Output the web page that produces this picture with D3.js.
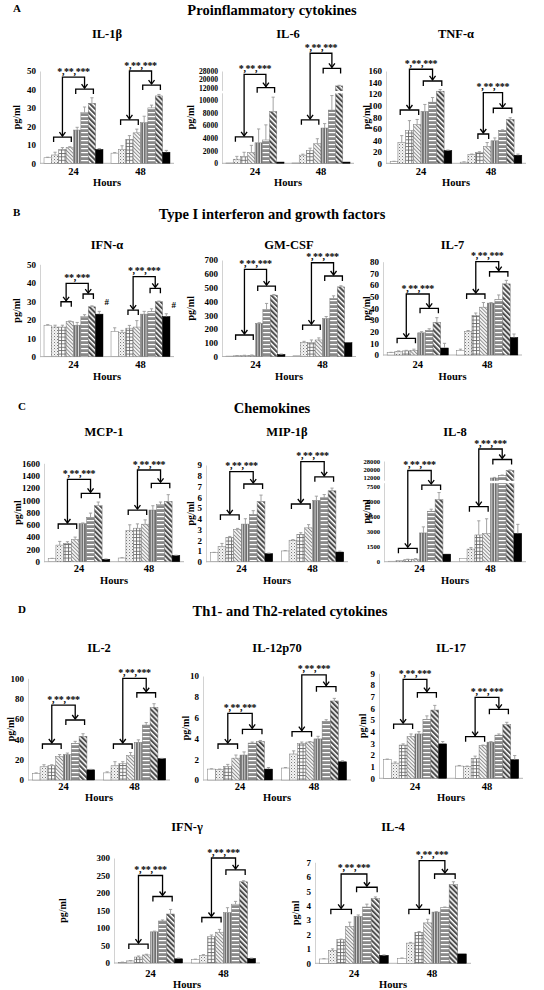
<!DOCTYPE html>
<html><head><meta charset="utf-8">
<script src="https://cdn.jsdelivr.net/npm/d3@7/dist/d3.min.js"></script>
<style>
body{margin:0;background:#fff;}
svg text{font-family:"Liberation Serif","Times New Roman",serif;font-weight:bold;fill:#000;}
</style></head><body>
<svg id="chart" width="544" height="990"></svg>
<script>
// ---------- categories ----------
const timeGroups = ["24", "48"];
const barKinds = ["white", "dots", "grid", "lightdiag", "vert", "horiz", "darkdiag", "black"];
const sigFull = "*,**,***";
const sigShort = "**,***";

// ---------- A: proinflammatory ----------
const il1b_24 = [3, 4.5, 7.5, 8.5, 18, 27.5, 32.5, 7.5];
const il1b_48 = [5.5, 7.5, 13, 16.5, 22, 30, 36.5, 6];
const il1b_err24 = [0.3, 1.5, 1, 0.5, 1.5, 3, 3, 0.5];
const il1b_err48 = [0.3, 2, 2, 2, 3.5, 1.5, 0.8, 1];
const il1b_ticks = [0, 10, 20, 30, 40, 50];
const il1b_br24 = [14.2, 40.2, 46.7];
const il1b_br48 = [23.5, 42.4, 50];

const il6_24 = [50, 650, 1050, 1700, 3250, 3700, 8200, 200];
const il6_48 = [50, 1300, 2000, 3100, 5600, 8450, 13700, 200];
const il6_err24 = [0, 450, 700, 1150, 2200, 2400, 2300, 0];
const il6_err48 = [0, 150, 400, 800, 700, 2300, 600, 0];
const il6_ticks = [0, 2000, 4000, 6000, 8000, 10000, 12000, 20000, 28000];
const il6_br24 = [4200, 12000, 24800];
const il6_br48 = [6900, 30500, 45000];

const tnf_24 = [3, 36, 57, 67, 90, 106, 125, 22];
const tnf_48 = [2, 15, 18.5, 29, 39, 57, 76, 14];
const tnf_err24 = [0.5, 12, 17, 9, 12, 8, 3, 1];
const tnf_err48 = [0.5, 1, 1.5, 7, 5, 1, 3, 2];
const tnf_ticks = [0, 20, 40, 60, 80, 100, 120, 140, 160];
const tnf_br24 = [92.4, 142.7, 163];
const tnf_br48 = [50.8, 95.4, 122.4];

// ---------- B: type I IFN and growth factors ----------
const ifna_24 = [17, 16, 16, 19, 17, 21.7, 27, 23];
const ifna_48 = [13.6, 13.2, 15.4, 16, 23, 24.4, 29.8, 21.7];
const ifna_err24 = [0.3, 1, 1, 0.3, 1.5, 1, 0.5, 1.5];
const ifna_err48 = [2, 1, 1.5, 3.5, 1.5, 1.5, 0.3, 1.5];
const ifna_ticks = [0, 10, 20, 30, 40, 50];
const ifna_br24 = [29.7, 33.9, 39.7];
const ifna_br48 = [25.2, 37, 43.3];

const gmcsf_24 = [3, 5, 6, 8, 240, 340, 445, 15];
const gmcsf_48 = [5, 100, 100, 120, 275, 420, 505, 100];
const gmcsf_err24 = [0, 2, 3, 3, 5, 45, 5, 3];
const gmcsf_err48 = [0, 10, 20, 15, 15, 20, 8, 0];
const gmcsf_ticks = [0, 100, 200, 300, 400, 500, 600, 700];
const gmcsf_br24 = [156, 511, 632];
const gmcsf_br48 = [228, 584, 680];

const il7_24 = [2, 3, 3.5, 4, 19, 21, 28, 6];
const il7_48 = [4, 20, 34, 41, 44.5, 47.5, 61, 15];
const il7_err24 = [0.3, 0.5, 0.5, 1, 1, 1.5, 4, 4];
const il7_err48 = [1, 1, 2, 4, 0.5, 4, 3, 3];
const il7_ticks = [0, 10, 20, 30, 40, 50, 60, 70, 80];
const il7_br24 = [14.3, 40, 52.3];
const il7_br48 = [52.3, 71.4, 80];

// ---------- C: chemokines ----------
const mcp1_24 = [50, 270, 300, 360, 620, 720, 910, 40];
const mcp1_48 = [60, 510, 545, 610, 840, 930, 980, 100];
const mcp1_err24 = [5, 60, 25, 40, 10, 70, 60, 5];
const mcp1_err48 = [5, 90, 70, 70, 70, 40, 110, 5];
const mcp1_ticks = [0, 200, 400, 600, 800, 1000, 1200, 1400, 1600];
const mcp1_br24 = [613, 1112, 1340];
const mcp1_br48 = [840, 1275, 1491];

const mip_24 = [0.85, 1.4, 2.25, 3.0, 3.5, 4.4, 5.6, 0.75];
const mip_48 = [1.0, 2.0, 2.55, 3.15, 5.7, 5.95, 6.6, 0.9];
const mip_err24 = [0.02, 0.3, 0.1, 0.1, 0.5, 0.35, 0.6, 0.05];
const mip_err48 = [0.03, 0.05, 0.15, 0.3, 0.4, 0.3, 0.25, 0.08];
const mip_ticks = [0, 1, 2, 3, 4, 5, 6, 7, 8, 9];
const mip_br24 = [4.35, 7.23, 8.38];
const mip_br48 = [5.37, 7.9, 9.31];

const il8_24 = [50, 100, 200, 250, 2850, 5000, 6150, 750];
const il8_48 = [300, 1250, 2650, 2800, 11500, 13500, 18500, 2800];
const il8_err24 = [0, 0, 50, 50, 600, 200, 700, 0];
const il8_err48 = [0, 150, 1400, 1450, 300, 500, 600, 900];
const il8_ticks = [0, 1500, 3000, 4500, 6000, 7500, 12000, 20000, 28000];
const il8_br24 = [1330, 7980, 18500];
const il8_br48 = [5450, 29500, 40000];

// ---------- D: Th1 / Th2 ----------
const il2_24 = [6.5, 13, 14, 23, 25, 36, 43, 10];
const il2_48 = [7, 14, 16, 24, 37, 54, 71.5, 21];
const il2_err24 = [0.5, 2, 1, 2, 1.5, 2, 2.5, 0.5];
const il2_err48 = [1, 4, 2, 3, 2.5, 2.5, 3.5, 0.3];
const il2_ticks = [0, 20, 40, 60, 80, 100];
const il2_br24 = [35.4, 59, 73.7];
const il2_br48 = [35.4, 85.8, 100];

const il12_24 = [1.05, 1.0, 1.3, 2.1, 2.4, 3.55, 3.7, 1.05];
const il12_48 = [1.15, 2.5, 3.5, 3.65, 3.95, 5.65, 7.6, 1.75];
const il12_err24 = [0.03, 0.05, 0.2, 0.3, 0.3, 0.1, 0.1, 0.15];
const il12_err48 = [0.05, 0.3, 0.15, 0.05, 0.25, 0.15, 0.25, 0.1];
const il12_ticks = [0, 2, 4, 6, 8, 10];
const il12_br24 = [3.46, 4.87, 6.4];
const il12_br48 = [4.65, 8.97, 10.1];

const il17_24 = [1.6, 1.3, 2.85, 3.6, 3.8, 5.05, 5.85, 2.95];
const il17_48 = [1.05, 1.0, 1.7, 2.8, 3.1, 3.7, 4.6, 1.6];
const il17_err24 = [0.05, 0.1, 0.1, 0.2, 0.2, 0.3, 0.4, 0.2];
const il17_err48 = [0.05, 0.05, 0.2, 0.05, 0.05, 0.1, 0.2, 0.35];
const il17_ticks = [0, 1, 2, 3, 4, 5, 6, 7, 8, 9];
const il17_br24 = [4.65, 7.34, 8.48];
const il17_br48 = [3.57, 5.91, 6.94];

const ifng_24 = [2, 6, 17, 23, 89, 120, 140, 12];
const ifng_48 = [10, 22, 75, 88, 144, 168, 232, 13];
const ifng_err24 = [0.5, 1, 3, 2, 2, 3, 13, 2];
const ifng_err48 = [1, 2, 5, 8, 14, 8, 3, 1];
const ifng_ticks = [0, 50, 100, 150, 200, 250, 300];
const ifng_br24 = [54, 190, 250];
const ifng_br48 = [130, 266, 300];

const il4_24 = [0.3, 0.9, 1.65, 2.55, 3.25, 3.9, 4.5, 0.55];
const il4_48 = [0.35, 1.4, 2.15, 2.8, 3.55, 3.85, 5.45, 0.65];
const il4_err24 = [0.02, 0.1, 0.03, 0.3, 0.1, 0.2, 0.1, 0.03];
const il4_err48 = [0.02, 0.05, 0.05, 0.25, 0.03, 0.05, 0.2, 0.03];
const il4_ticks = [0, 1, 2, 3, 4, 5, 6, 7];
const il4_br24 = [3.74, 5.27, 6.19];
const il4_br48 = [3.74, 6.19, 7.11];

// ---------- layout ----------
const rows = [
  {letter: "A", lx: 13, heading: "Proinflammatory cytokines", hx: 272, hy: 15, titleY: 38, catY: 175, hoursY: 186},
  {letter: "B", lx: 13, heading: "Type I interferon and growth factors", hx: 272, hy: 219, titleY: 249, catY: 368, hoursY: 380},
  {letter: "C", lx: 18, heading: "Chemokines", hx: 272, hy: 413, titleY: 436, catY: 572, hoursY: 584},
  {letter: "D", lx: 18, heading: "Th1- and Th2-related cytokines", hx: 290, hy: 616, titleY: 652, catY: 790, hoursY: 801},
  {titleY: 831, catY: 977, hoursY: 988}
];

const panels = [
  {row: 0, title: "IL-1β", v: [il1b_24, il1b_48], e: [il1b_err24, il1b_err48], ticks: il1b_ticks, br: [il1b_br24, il1b_br48],
   x0: 40, x1: 174, domain: [0, 50], range: [163.3, 71], ylabX: 16},
  {row: 0, title: "IL-6", v: [il6_24, il6_48], e: [il6_err24, il6_err48], ticks: il6_ticks, br: [il6_br24, il6_br48],
   x0: 222, x1: 354, domain: [0, 12000, 28000], range: [163.3, 87.7, 71], ylabX: 190, breakAt: 11300, tickFs: 7.6},
  {row: 0, title: "TNF-α", v: [tnf_24, tnf_48], e: [tnf_err24, tnf_err48], ticks: tnf_ticks, br: [tnf_br24, tnf_br48],
   x0: 386, x1: 526, domain: [0, 160], range: [163.3, 71], ylabX: 366, spans48: [[2, 3], [4, 6]]},

  {row: 1, title: "IFN-α", v: [ifna_24, ifna_48], e: [ifna_err24, ifna_err48], ticks: ifna_ticks, br: [ifna_br24, ifna_br48],
   x0: 40, x1: 174, domain: [0, 50], range: [356.6, 264.3], ylabX: 16, sig24: sigShort,
   spans24: [[2, 3], [5, 6]], spans48: [[2, 3], [5, 6]], hash: true},
  {row: 1, title: "GM-CSF", v: [gmcsf_24, gmcsf_48], e: [gmcsf_err24, gmcsf_err48], ticks: gmcsf_ticks, br: [gmcsf_br24, gmcsf_br48],
   x0: 222, x1: 356, domain: [0, 700], range: [356.5, 260], ylabX: 190},
  {row: 1, title: "IL-7", v: [il7_24, il7_48], e: [il7_err24, il7_err48], ticks: il7_ticks, br: [il7_br24, il7_br48],
   x0: 383, x1: 522, domain: [0, 80], range: [355, 261.7], ylabX: 366},

  {row: 2, title: "MCP-1", v: [mcp1_24, mcp1_48], e: [mcp1_err24, mcp1_err48], ticks: mcp1_ticks, br: [mcp1_br24, mcp1_br48],
   x0: 44, x1: 184, domain: [0, 1600], range: [561.7, 463.3], ylabX: 17, tdx: -10},
  {row: 2, title: "MIP-1β", v: [mip_24, mip_48], e: [mip_err24, mip_err48], ticks: mip_ticks, br: [mip_br24, mip_br48],
   x0: 206, x1: 348, domain: [0, 9], range: [561.7, 465], ylabX: 190, tdx: 10},
  {row: 2, title: "IL-8", v: [il8_24, il8_48], e: [il8_err24, il8_err48], ticks: il8_ticks, br: [il8_br24, il8_br48],
   x0: 384, x1: 526, domain: [0, 7500, 12000, 28000], range: [561.7, 486, 477, 461], ylabX: 366, breakAt: 9500, tickFs: 6.6},

  {row: 3, title: "IL-2", v: [il2_24, il2_48], e: [il2_err24, il2_err48], ticks: il2_ticks, br: [il2_br24, il2_br48],
   x0: 28, x1: 170, domain: [0, 100], range: [780, 678.3], ylabX: 10},
  {row: 3, title: "IL-12p70", v: [il12_24, il12_48], e: [il12_err24, il12_err48], ticks: il12_ticks, br: [il12_br24, il12_br48],
   x0: 203, x1: 351, domain: [0, 10], range: [780, 676], ylabX: 185},
  {row: 3, title: "IL-17", v: [il17_24, il17_48], e: [il17_err24, il17_err48], ticks: il17_ticks, br: [il17_br24, il17_br48],
   x0: 379, x1: 523, domain: [0, 9], range: [778.3, 673.3], ylabX: 362},

  {row: 4, title: "IFN-γ", v: [ifng_24, ifng_48], e: [ifng_err24, ifng_err48], ticks: ifng_ticks, br: [ifng_br24, ifng_br48],
   x0: 114, x1: 260, domain: [0, 300], range: [963, 858], ylabX: 62},
  {row: 4, title: "IL-4", v: [il4_24, il4_48], e: [il4_err24, il4_err48], ticks: il4_ticks, br: [il4_br24, il4_br48],
   x0: 315, x1: 471, domain: [0, 7], range: [963.3, 862.3], ylabX: 295}
];

// ---------- drawing ----------
const svg = d3.select("#chart");
const defs = svg.append("defs");

function pattern(id, size, bg, rot, draw) {
  const p = defs.append("pattern").attr("id", id).attr("patternUnits", "userSpaceOnUse")
    .attr("width", size).attr("height", size);
  if (rot) p.attr("patternTransform", `rotate(${rot})`);
  p.append("rect").attr("width", size).attr("height", size).attr("fill", bg);
  draw(p);
}
pattern("dots", 3, "#f2f2f2", 0, p => {
  p.append("rect").attr("x", 0).attr("y", 0).attr("width", 1).attr("height", 1).attr("fill", "#7a7a7a");
  p.append("rect").attr("x", 1.5).attr("y", 1.5).attr("width", 0.8).attr("height", 0.8).attr("fill", "#a0a0a0");
});
pattern("grid", 3.4, "#ffffff", 0, p => {
  p.append("rect").attr("x", 0).attr("y", 0).attr("width", 0.9).attr("height", 3.4).attr("fill", "#6a6a6a");
  p.append("rect").attr("x", 0).attr("y", 0).attr("width", 3.4).attr("height", 0.9).attr("fill", "#6a6a6a");
});
pattern("lightdiag", 2.6, "#f4f4f4", -45, p => {
  p.append("rect").attr("x", 0).attr("y", 0).attr("width", 0.9).attr("height", 2.6).attr("fill", "#8a8a8a");
});
pattern("vert", 2.6, "#6e6e6e", 0, p => {
  p.append("rect").attr("x", 0).attr("y", 0).attr("width", 0.9).attr("height", 2.6).attr("fill", "#e0e0e0");
});
pattern("horiz", 4, "#8a8a8a", 0, p => {
  p.append("rect").attr("x", 0).attr("y", 0).attr("width", 4).attr("height", 1.2).attr("fill", "#ffffff");
});
pattern("darkdiag", 3.6, "#ffffff", -45, p => {
  p.append("rect").attr("x", 0).attr("y", 0).attr("width", 2.1).attr("height", 3.6).attr("fill", "#4e4e4e");
});
const fills = {white: "#ffffff", dots: "url(#dots)", grid: "url(#grid)", lightdiag: "url(#lightdiag)",
  vert: "url(#vert)", horiz: "url(#horiz)", darkdiag: "url(#darkdiag)", black: "#000000"};

// row headings
rows.forEach(r => {
  if (r.letter) svg.append("text").attr("x", r.lx).attr("y", r.hy - 3).attr("font-size", 11).text(r.letter);
  if (r.heading) svg.append("text").attr("x", r.hx).attr("y", r.hy).attr("text-anchor", "middle")
    .attr("font-size", 14.5).text(r.heading);
});

function drawPanel(p) {
  const r = rows[p.row];
  const g = svg.append("g");
  const y = d3.scaleLinear().domain(p.domain).range(p.range);
  const x = d3.scaleBand().domain(timeGroups).range([p.x0, p.x1]).paddingInner(0.12).paddingOuter(0.06);
  const xi = d3.scaleBand().domain(d3.range(barKinds.length)).range([0, x.bandwidth()]);
  const bw = xi.bandwidth();
  const y0 = y(0);
  const cx = (p.x0 + p.x1) / 2;

  // y axis
  const ax = g.append("g").attr("transform", `translate(${p.x0},0)`)
    .call(d3.axisLeft(y).tickValues(p.ticks).tickSize(0).tickPadding(4).tickFormat(d3.format("d")));
  ax.select(".domain").attr("stroke", "#d2d2d2").attr("stroke-width", 1);
  ax.selectAll("text").attr("font-size", p.tickFs || 9).attr("font-family", "Liberation Serif, serif")
    .attr("font-weight", "bold").attr("fill", "#000");

  // x axis line
  g.append("line").attr("x1", p.x0).attr("x2", p.x1).attr("y1", y0).attr("y2", y0)
    .attr("stroke", "#b5b5b5").attr("stroke-width", 1);

  // bars
  const data = [];
  timeGroups.forEach((tg, gi) => p.v[gi].forEach((v, i) => data.push({tg, gi, i, v, e: p.e[gi][i]})));
  g.selectAll("rect.bar").data(data).join("rect").attr("class", "bar")
    .attr("x", d => x(d.tg) + xi(d.i)).attr("width", bw)
    .attr("y", d => y(d.v)).attr("height", d => y0 - y(d.v))
    .attr("fill", d => fills[barKinds[d.i]])
    .attr("stroke", d => d.i === 7 ? "#000" : "#7a7a7a").attr("stroke-width", 0.5);

  // broken axis gap
  if (p.breakAt) {
    const yb = y(p.breakAt);
    g.append("rect").attr("x", p.x0 - 2).attr("width", p.x1 - p.x0 + 2).attr("y", yb - 1.2).attr("height", 2.4).attr("fill", "#fff");
  }

  // error bars (upper only)
  const eb = data.filter(d => d.e > 0);
  g.selectAll("path.err").data(eb).join("path").attr("class", "err")
    .attr("d", d => {
      const c = x(d.tg) + xi(d.i) + bw / 2;
      const t = y(d.v + d.e);
      return `M${c},${y(d.v)}V${t}M${c - 1.6},${t}H${c + 1.6}`;
    })
    .attr("stroke", "#9a9a9a").attr("stroke-width", 0.9).attr("fill", "none");

  // significance brackets
  timeGroups.forEach((tg, gi) => {
    const lv = p.br[gi];
    const spans = (gi === 0 ? p.spans24 : p.spans48) || [[1, 3], [4, 6]];
    const bx = i => x(tg) + xi(i);
    const xa1 = bx(spans[0][0]) + 0.3 * bw, xb1 = bx(spans[0][1]) + 0.7 * bw;
    const xa2 = bx(spans[1][0]) + 0.3 * bw, xb2 = bx(spans[1][1]) + 0.7 * bw;
    const c1 = (xa1 + xb1) / 2, c2 = (xa2 + xb2) / 2;
    const yb1 = y(lv[0]), yb2 = y(lv[1]), yt = y(lv[2]);
    const path = d => g.append("path").attr("d", d).attr("stroke", "#000").attr("stroke-width", 1.3).attr("fill", "none");
    path(`M${xa1},${yb1 + 5}V${yb1}H${xb1}V${yb1 + 5}`);
    path(`M${xa2},${yb2 + 5}V${yb2}H${xb2}V${yb2 + 5}`);
    path(`M${c1},${yb1 - 1}V${yt}H${c2}V${yb2 - 1}`);
    path(`M${c1 - 3},${yb1 - 5}L${c1},${yb1 - 1}L${c1 + 3},${yb1 - 5}`);
    path(`M${c2 - 3},${yb2 - 5}L${c2},${yb2 - 1}L${c2 + 3},${yb2 - 5}`);
    const sig = (gi === 0 && p.sig24) ? p.sig24 : sigFull;
    g.append("text").attr("x", (c1 + c2) / 2).attr("y", yt - 2.5).attr("text-anchor", "middle")
      .attr("font-size", 10).attr("letter-spacing", -0.3).text(sig);
    if (p.hash) {
      const d = data.find(q => q.gi === gi && q.i === 7);
      g.append("text").attr("x", bx(7) + bw + 1.5).attr("y", y(d.v + d.e) - 6)
        .attr("font-size", 9).attr("fill", "#000").text("#");
    }
  });

  // labels
  g.append("text").attr("x", cx + (p.tdx || 0)).attr("y", r.titleY).attr("text-anchor", "middle")
    .attr("font-size", 12.5).text(p.title);
  g.selectAll("text.cat").data(timeGroups).join("text").attr("class", "cat")
    .attr("x", d => x(d) + x.bandwidth() / 2).attr("y", r.catY).attr("text-anchor", "middle")
    .attr("font-size", 10.5).text(d => d);
  g.append("text").attr("x", cx).attr("y", r.hoursY).attr("text-anchor", "middle")
    .attr("font-size", 10.5).text("Hours");
  const ym = (p.range[0] + p.range[p.range.length - 1]) / 2;
  g.append("text").attr("transform", `translate(${p.ylabX},${ym}) rotate(-90)`).attr("text-anchor", "middle")
    .attr("dy", "0.35em").attr("font-size", 10).text("pg/ml");
}

panels.forEach(drawPanel);
</script></body></html>
